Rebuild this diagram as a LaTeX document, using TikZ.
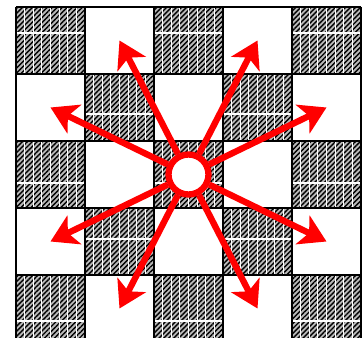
\documentclass[tikz,border=0pt]{standalone}
\usetikzlibrary{arrows.meta,patterns.meta}
\tikzset{
  hatched/.style={pattern={Lines[angle=45,distance=2pt,line width=0.8pt]},pattern color=black},
  stripe/.style={white,line width=0.7pt},
  jump/.style={draw=red,line width=3.6pt,-{Stealth[length=15pt,width=18pt,inset=4pt]}},
  knight/.style={circle,draw=red,line width=3.6pt,fill=white,minimum size=0.8cm,inner sep=0pt}
}
\begin{document}
\begin{tikzpicture}[x=0.02cm,y=-0.02cm]
\useasboundingbox (0,0) rectangle (363,338);
\begin{scope}
\clip (0,0) rectangle (363,338);
\foreach \r/\h in {0/26,1/40,2/42,3/31,4/46}
  \foreach \c in {0,...,4} {
    \pgfmathtruncatemacro\s{mod(\c+\r,2)}
    \ifnum\s=0
      \fill[gray!55] (16+69*\c,7+67*\r) rectangle ++(69,67);
      \fill[hatched] (16+69*\c,7+67*\r) rectangle ++(69,67);
      \foreach \k in {1,...,7}
        \draw[stripe] (16+69*\c+69*\k/8,7+67*\r) -- ++(0,67);
      \draw[stripe] (16+69*\c,7+67*\r+\h) -- ++(69,0);
    \fi
  }
\foreach \i in {0,...,5} {
  \draw[line width=1.2pt] (16+69*\i,7) -- (16+69*\i,342);
  \draw[line width=1.2pt] (16,7+67*\i) -- (361,7+67*\i);
}
\end{scope}

\node[knight] (c) at (188.5,174.5) {};

\foreach \c/\r in {1/0,3/0,0/1,4/1,0/3,4/3,1/4,3/4} {
  \coordinate (t\c\r) at (50.5+69*\c,40.5+67*\r);
  \draw[jump] (c) -- (t\c\r);
}
\end{tikzpicture}
\end{document}
